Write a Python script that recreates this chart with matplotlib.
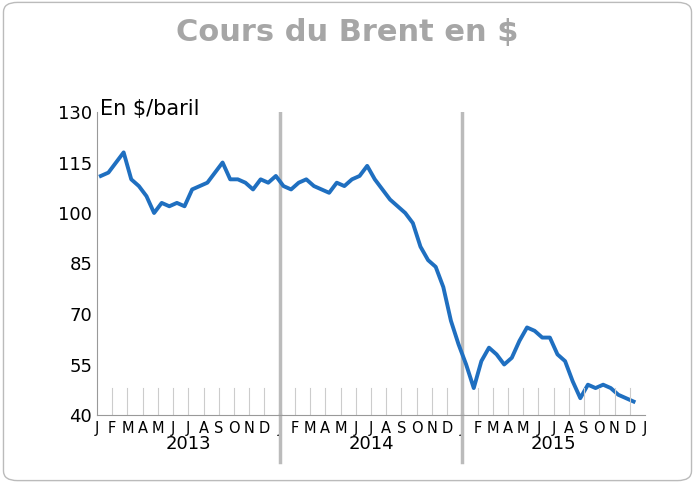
import matplotlib
matplotlib.use("Agg")
import matplotlib.pyplot as plt
import numpy as np
from matplotlib.patches import FancyBboxPatch

years = ["2013", "2014", "2015"]
month_labels = ["J","F","M","A","M","J","J","A","S","O","N","D"]*3 + ["J"]
y_ticks = [40, 55, 70, 85, 100, 115, 130]
# half-month Brent prices ($/baril)
prices = [111,112,115,118,110,108,105,100,103,102,103,102,107,108,109,112,115,110,110,109,107,110,109,111,
          108,107,109,110,108,107,106,109,108,110,111,114,110,107,104,102,100,97,90,86,84,78,68,61,
          55,48,56,60,58,55,57,62,66,65,63,63,58,56,50,45,49,48,49,48,46,45,44]
x = np.arange(len(prices))*0.5 + 0.25

fig = plt.figure(figsize=(6.95,4.83), dpi=100)
fig.patches.append(FancyBboxPatch((0.005,0.005),0.99,0.99, boxstyle="round,pad=0,rounding_size=0.02",
                                  transform=fig.transFigure, fc="none", ec="#bbbbbb", lw=1, zorder=-1))
ax = fig.add_axes([97/695, 1-415/483, 548/695, 303/483])
ax.set_xlim(0, 36); ax.set_ylim(40, 130)
ax.plot(x, prices, color="#1F6FC0", lw=2.8)
ax.set_yticks(y_ticks)
ax.tick_params(axis="y", labelsize=13, length=0)
ax.set_xticks(range(37)); ax.set_xticklabels(month_labels, fontsize=10.5)
ax.tick_params(axis="x", length=0, pad=4)
for m in range(1,36):
    if m % 12:
        ax.plot([m,m],[40,48],color="#cccccc",lw=0.8)
for b in [12,24]:
    ax.axvline(b, color="#bbbbbb", lw=2.5, zorder=0)
    ax.plot([b,b],[40,26],color="#bbbbbb",lw=2.5,clip_on=False)
for s in ["top","right"]:
    ax.spines[s].set_visible(False)
for s in ["left","bottom"]:
    ax.spines[s].set_color("#999999")
for i,yr in enumerate(years):
    ax.text(6+12*i, 31.5, yr, ha="center", va="center", fontsize=13)
ax.text(0.2, 128, "En $/baril", fontsize=15, va="bottom")
fig.text(0.5, 0.915, "Cours du Brent en $", ha="center", fontsize=22, weight="bold", color="#a6a6a6")
fig.savefig("out.png")
